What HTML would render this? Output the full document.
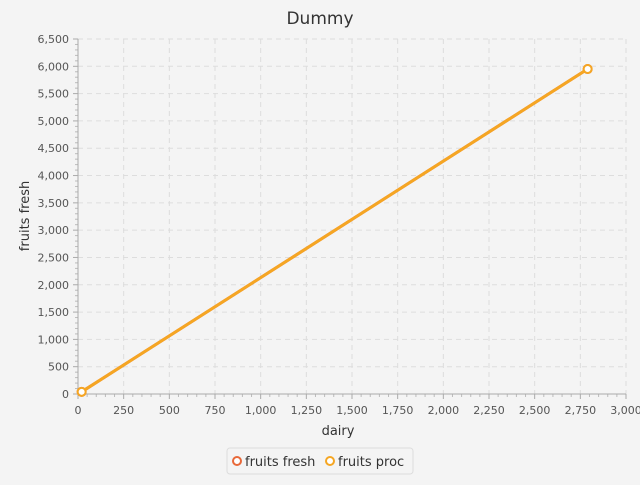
<!DOCTYPE html>
<html><head><meta charset="utf-8"><style>
body{margin:0;background:#f4f4f4;font-family:"Liberation Sans","DejaVu Sans",sans-serif}
</style></head><body>
<svg width="640" height="480" xmlns="http://www.w3.org/2000/svg">
<rect width="640" height="480" fill="#f4f4f4"/>
<text x="320" y="24" text-anchor="middle" font-size="17" fill="#333" font-family="DejaVu Sans, sans-serif">Dummy</text>
<g id="grid"></g>
<g id="axes"></g>
<g id="series"></g>
<text x="338" y="435" text-anchor="middle" font-size="13" fill="#333" font-family="DejaVu Sans, sans-serif">dairy</text>
<text transform="translate(29,216) rotate(-90)" text-anchor="middle" font-size="13" fill="#333" font-family="DejaVu Sans, sans-serif">fruits fresh</text>
<g>
<rect x="227" y="448" width="186" height="26" rx="3" fill="#f4f4f4" stroke="#ddd"/>
<g>
<circle cx="237" cy="461" r="4" fill="#fff" stroke="#e8693a" stroke-width="2"/>
<text x="245" y="466" font-size="13" fill="#333" font-family="DejaVu Sans, sans-serif">fruits fresh</text></g>
<g>
<circle cx="330" cy="461" r="4" fill="#fff" stroke="#f5a623" stroke-width="2"/>
<text x="338" y="466" font-size="13" fill="#333" font-family="DejaVu Sans, sans-serif">fruits proc</text></g>
</g>
</svg>
<script>
const xTicks=[0,250,500,750,1000,1250,1500,1750,2000,2250,2500,2750,3000];
const yTicks=[0,500,1000,1500,2000,2500,3000,3500,4000,4500,5000,5500,6000,6500];
const freshX=[20,2790];
const freshY=[40,5950];
const procX=[20,2790];
const procY=[40,5950];
const X0=78,X1=626,Y0=394,Y1=39;
const sx=v=>X0+(v-0)/3000*(X1-X0);
const sy=v=>Y0-(v-0)/6500*(Y0-Y1);
const NS="http://www.w3.org/2000/svg";
function mk(t,a,p){const e=document.createElementNS(NS,t);for(const k in a)e.setAttribute(k,a[k]);p.appendChild(e);return e;}
const g=document.getElementById('grid'),ax=document.getElementById('axes'),s=document.getElementById('series');
const fmt=v=>v.toLocaleString('en-US');
xTicks.forEach(v=>{const x=sx(v);
 if(v>0){const l=mk('line',{x1:x,x2:x,y1:Y1,y2:Y0,stroke:'#ddd','stroke-dasharray':'5,4'},g);
 
 }
 mk('line',{x1:x,x2:x,y1:Y0,y2:Y0+5,stroke:'#aaa'},ax);
 const t=mk('text',{x:x,y:Y0+20,'text-anchor':'middle','font-size':11,fill:'#555','font-family':'DejaVu Sans, sans-serif'},ax);t.textContent=fmt(v);
 
 
 if(v<3000)for(let i=1;i<5;i++){const mx=sx(v+i*50);mk('line',{x1:mx,x2:mx,y1:Y0,y2:Y0+3,stroke:'#bbb'},ax);}
});
yTicks.forEach(v=>{const y=sy(v);
 if(v>0){const l=mk('line',{x1:X0,x2:X1,y1:y,y2:y,stroke:'#ddd','stroke-dasharray':'5,4'},g);
 
 }
 mk('line',{x1:X0-5,x2:X0,y1:y,y2:y,stroke:'#aaa'},ax);
 const t=mk('text',{x:X0-9,y:y+4,'text-anchor':'end','font-size':11,fill:'#555','font-family':'DejaVu Sans, sans-serif'},ax);t.textContent=fmt(v);
 
 
 if(v<6500)for(let i=1;i<5;i++){const my=sy(v+i*100);mk('line',{x1:X0-3,x2:X0,y1:my,y2:my,stroke:'#bbb'},ax);}
});
mk('line',{x1:X0,x2:X1,y1:Y0,y2:Y0,stroke:'#aaa'},ax);
mk('line',{x1:X0,x2:X0,y1:Y1,y2:Y0,stroke:'#aaa'},ax);
function series(xs,ys,col,name){
 const p=mk('polyline',{points:xs.map((x,i)=>sx(x)+','+sy(ys[i])).join(' '),fill:'none',stroke:col,'stroke-width':3},s);
 
 
 xs.forEach((x,i)=>{const c=mk('circle',{cx:sx(x),cy:sy(ys[i]),r:4,fill:'#fff',stroke:col,'stroke-width':2},s);
 
 });
}
series(freshX,freshY,'#e8693a','fruits-fresh');
series(procX,procY,'#f5a623','fruits-proc');
</script>
</body></html>
